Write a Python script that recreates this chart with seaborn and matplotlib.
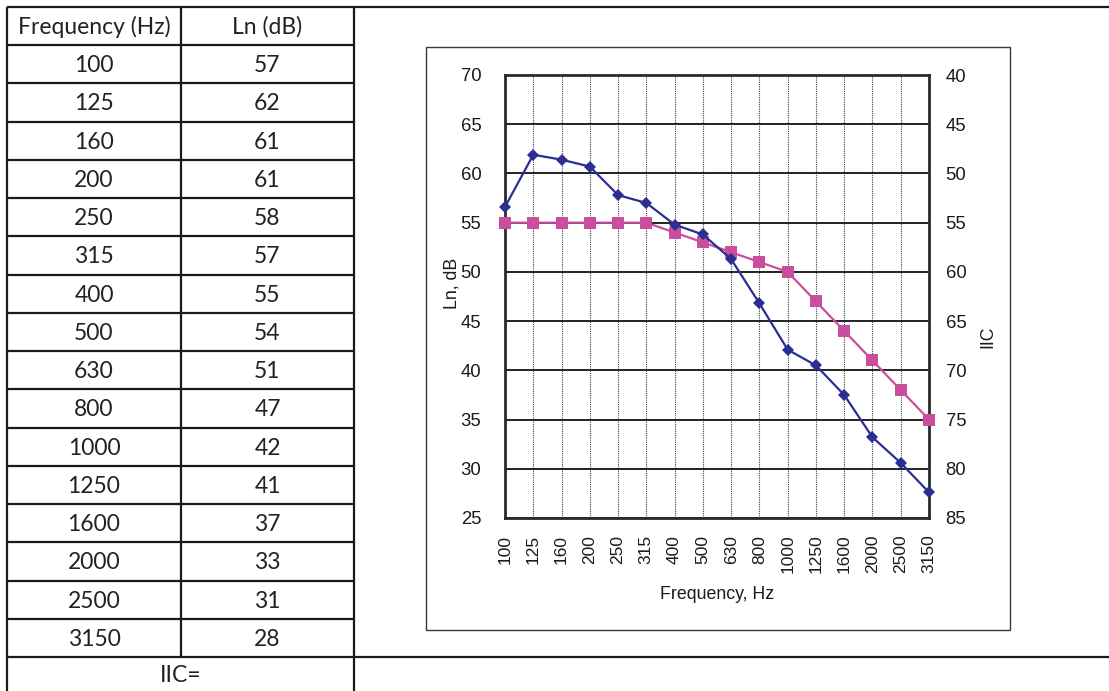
import numpy as np
import pandas as pd
import matplotlib
matplotlib.use("Agg")
import matplotlib.pyplot as plt
import seaborn as sns

# table + chart data
freqs = ["100", "125", "160", "200", "250", "315", "400", "500",
         "630", "800", "1000", "1250", "1600", "2000", "2500", "3150"]
ln_table = [57, 62, 61, 61, 58, 57, 55, 54, 51, 47, 42, 41, 37, 33, 31, 28]
ln_measured = [56.6, 61.9, 61.4, 60.7, 57.8, 57.0, 54.8, 53.8,
               51.3, 46.8, 42.1, 40.5, 37.5, 33.2, 30.6, 27.6]
iic_contour = [55, 55, 55, 55, 55, 55, 54, 53, 52, 51, 50, 47, 44, 41, 38, 35]
left_ticks = [25, 30, 35, 40, 45, 50, 55, 60, 65, 70]
right_ticks = [40, 45, 50, 55, 60, 65, 70, 75, 80, 85]

sns.set_theme(style="white")
plt.rcParams["font.family"] = ["Liberation Sans", "DejaVu Sans"]

W, H = 1109, 691
fig = plt.figure(figsize=(W / 100, H / 100), dpi=100)

# ---- table drawn in pixel space ----
tab = fig.add_axes([0, 0, 1, 1])
tab.set_xlim(0, W)
tab.set_ylim(H, 0)
tab.axis("off")

line_kw = dict(color="#1a1a1a", lw=1.6, solid_capstyle="butt")
x0, xc, x1 = 7, 181, 354
top, head_bot, row_h = 7, 45, 38.25
n = len(freqs)
body_bot = head_bot + n * row_h

tab.plot([x0, W], [top, top], **line_kw)
tab.plot([x0, x0], [top, H], **line_kw)
tab.plot([xc, xc], [top, body_bot], **line_kw)
tab.plot([x1, x1], [top, H], **line_kw)
tab.plot([x0, W], [body_bot, body_bot], **line_kw)
for k in range(n):
    y = head_bot + k * row_h
    tab.plot([x0, x1], [y, y], **line_kw)

cell_font = dict(family=["Lato", "DejaVu Sans"], fontsize=16.5, color="#222222",
                 ha="center", va="center")
tab.text((x0 + xc) / 2, (top + head_bot) / 2 + 1, "Frequency (Hz)", **cell_font)
tab.text((xc + x1) / 2, (top + head_bot) / 2 + 1, "Ln (dB)", **cell_font)
for k, (f, v) in enumerate(zip(freqs, ln_table)):
    yc = head_bot + (k + 0.5) * row_h + 1.5
    tab.text((x0 + xc) / 2, yc, f, **cell_font)
    tab.text((xc + x1) / 2, yc, str(v), **cell_font)
tab.text((x0 + x1) / 2, body_bot + 18, "IIC=", **cell_font)

# chart frame
tab.add_patch(plt.Rectangle((426, 47), 1010 - 426, 630 - 47, fill=False,
                            ec="#3a3a3a", lw=1.0))

# ---- chart ----
pl, pr, pt, pb = 505, 929, 75, 518
ax = fig.add_axes([pl / W, 1 - pb / H, (pr - pl) / W, (pb - pt) / H])

pos = np.arange(n)
df = pd.DataFrame({"pos": pos, "Ln": ln_measured, "ref": iic_contour})

sns.lineplot(data=df, x="pos", y="ref", ax=ax, color="#C94E9E", lw=1.6,
             marker="s", markersize=9, markeredgewidth=0, clip_on=False,
             zorder=5)
sns.lineplot(data=df, x="pos", y="Ln", ax=ax, color="#2B2F94", lw=1.6,
             marker="D", markersize=6.5, markeredgewidth=0, clip_on=False,
             zorder=6)

ax.set_xlim(0, n - 1)
ax.set_ylim(25, 70)
ax.set_yticks(left_ticks)
ax.set_xticks(pos)
ax.set_xticklabels(freqs, rotation=90)
ax.grid(axis="y", color="#111111", lw=1.3)
ax.grid(axis="x", color="#444444", lw=0.8, ls=(0, (1, 1)))
ax.tick_params(axis="y", length=0, pad=17, labelsize=13.3, labelcolor="#1a1a1a")
ax.tick_params(axis="x", length=0, pad=12, labelsize=12.5, labelcolor="#1a1a1a")
for sp in ax.spines.values():
    sp.set_color("#2a2a2a")
    sp.set_linewidth(2)
ax.set_xlabel("Frequency, Hz", fontsize=12.8, color="#1a1a1a", labelpad=9)
ax.set_ylabel("Ln, dB", fontsize=12.8, color="#1a1a1a")
ax.yaxis.set_label_coords(-0.105, 0.53)

ax2 = ax.twinx()
ax2.set_ylim(85, 40)
ax2.set_yticks(right_ticks)
ax2.tick_params(axis="y", length=0, pad=12, labelsize=13.3, labelcolor="#1a1a1a")
for sp in ax2.spines.values():
    sp.set_visible(False)
ax2.grid(False)
ax2.set_ylabel("IIC", fontsize=12.8, color="#1a1a1a", rotation=90)
ax2.yaxis.set_label_coords(1.118, 0.41)

fig.savefig("out.png", dpi=100)
